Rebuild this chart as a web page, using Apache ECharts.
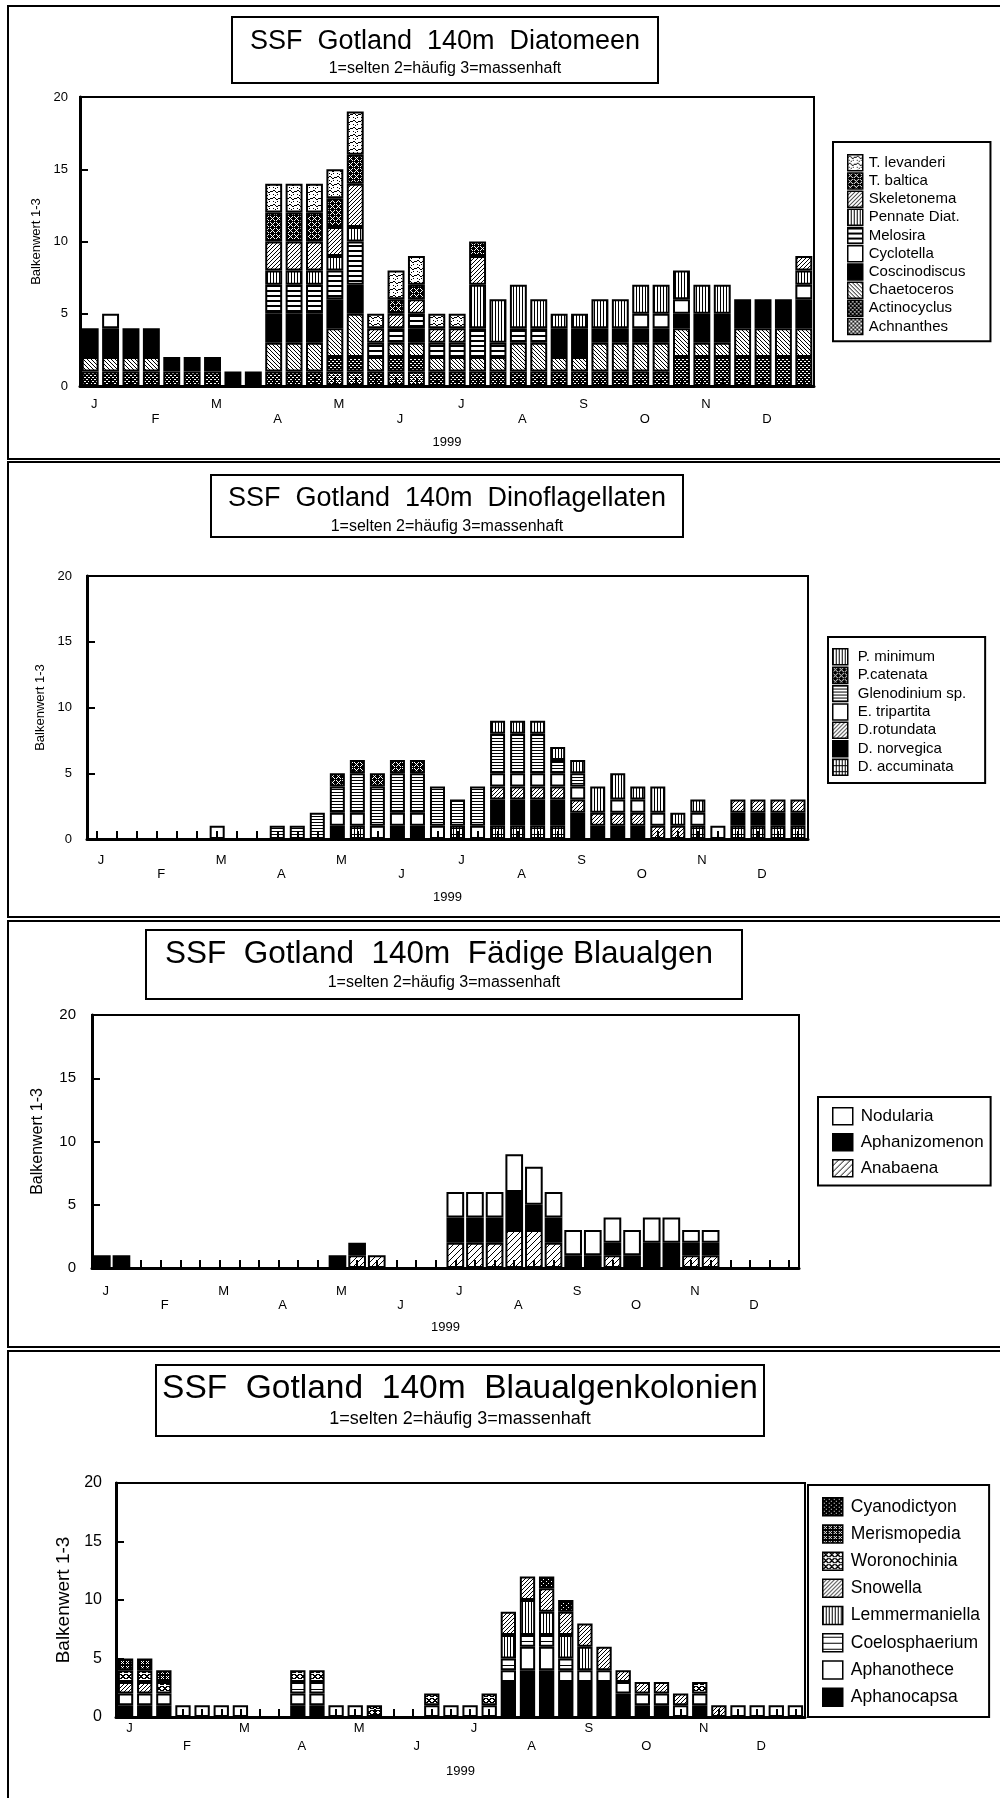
<!DOCTYPE html>
<html>
<head>
<meta charset="utf-8">
<title>SSF Gotland 140m 1999</title>
<script src="https://cdn.jsdelivr.net/npm/echarts@6/dist/echarts.min.js"></script>
<style>
  html, body { margin: 0; padding: 0; background: #fff; }
  #chart { width: 1000px; height: 1798px; }
</style>
</head>
<body>
<div id="chart"></div>
<script>
// ---- categories: three samples per month, 1999 ----
const monthNames = ['Jan','Feb','Mar','Apr','May','Jun','Jul','Aug','Sep','Oct','Nov','Dec'];
const monthLetters = ['J','F','M','A','M','J','J','A','S','O','N','D'];
const categories = monthNames.flatMap(m => [m + ' I', m + ' II', m + ' III']);
const yTicks = [0, 5, 10, 15, 20];

// ---- Diatomeen (Balkenwert 1-3 per taxon) ----
const diaAchnanthes   = [0,0,0,0,0,0,0,0,0,0,0,0,1,1,0,1,1,0,0,0,0,0,0,0,0,0,0,0,0,0,0,0,0,0,0,0];
const diaActinocyclus = [1,1,1,1,1,1,1,0,0,1,1,1,1,1,1,1,1,1,1,1,1,1,1,1,1,1,1,1,1,2,2,2,2,2,2,2];
const diaChaetoceros  = [1,1,1,1,0,0,0,0,0,2,2,2,2,3,1,1,1,1,1,1,1,2,2,1,1,2,2,2,2,2,1,1,2,2,2,2];
const diaCoscinodiscus= [2,2,2,2,1,1,1,1,1,2,2,2,2,2,0,0,1,0,0,0,0,0,0,2,2,1,1,1,1,1,2,2,2,2,2,2];
const diaCyclotella   = [0,1,0,0,0,0,0,0,0,0,0,0,0,0,0,0,0,0,0,0,0,0,0,0,0,0,0,1,1,1,0,0,0,0,0,1];
const diaMelosira     = [0,0,0,0,0,0,0,0,0,2,2,2,2,3,1,1,1,1,1,2,1,1,1,0,0,0,0,0,0,0,0,0,0,0,0,0];
const diaPennate      = [0,0,0,0,0,0,0,0,0,1,1,1,1,1,0,0,0,0,0,3,3,3,2,1,1,2,2,2,2,2,2,2,0,0,0,1];
const diaSkeletonema  = [0,0,0,0,0,0,0,0,0,2,2,2,2,3,1,1,1,1,1,2,0,0,0,0,0,0,0,0,0,0,0,0,0,0,0,1];
const diaTbaltica     = [0,0,0,0,0,0,0,0,0,2,2,2,2,2,0,1,1,0,0,1,0,0,0,0,0,0,0,0,0,0,0,0,0,0,0,0];
const diaTlevanderi   = [0,0,0,0,0,0,0,0,0,2,2,2,2,3,1,2,2,1,1,0,0,0,0,0,0,0,0,0,0,0,0,0,0,0,0,0];

// ---- Dinoflagellaten ----
const dinoDaccuminata = [0,0,0,0,0,0,0,0,0,0,0,0,0,1,0,0,0,0,1,0,1,1,1,1,0,0,0,0,0,0,1,0,1,1,1,1];
const dinoDnorvegica  = [0,0,0,0,0,0,0,0,0,0,0,0,1,0,0,1,1,0,0,0,2,2,2,2,2,1,1,1,0,0,0,0,1,1,1,1];
const dinoDrotundata  = [0,0,0,0,0,0,0,0,0,0,0,0,0,0,0,0,0,0,0,0,1,1,1,1,1,1,1,1,1,1,0,0,1,1,1,1];
const dinoEtripartita = [0,0,0,0,0,0,1,0,0,0,0,0,1,1,1,1,1,1,0,1,1,1,1,1,1,0,1,1,1,0,1,1,0,0,0,0];
const dinoGlenodinium = [0,0,0,0,0,0,0,0,0,1,1,2,2,3,3,3,3,3,2,3,3,3,3,1,1,0,0,0,0,0,0,0,0,0,0,0];
const dinoPcatenata   = [0,0,0,0,0,0,0,0,0,0,0,0,1,1,1,1,1,0,0,0,0,0,0,0,0,0,0,0,0,0,0,0,0,0,0,0];
const dinoPminimum    = [0,0,0,0,0,0,0,0,0,0,0,0,0,0,0,0,0,0,0,0,1,1,1,1,1,2,2,1,2,1,1,0,0,0,0,0];

// ---- Fädige Blaualgen ----
const filAnabaena      = [0,0,0,0,0,0,0,0,0,0,0,0,0,1,1,0,0,0,2,2,2,3,3,2,0,0,1,0,0,0,1,1,0,0,0,0];
const filAphanizomenon = [1,1,0,0,0,0,0,0,0,0,0,0,1,1,0,0,0,0,2,2,2,3,2,2,1,1,1,1,2,2,1,1,0,0,0,0];
const filNodularia     = [0,0,0,0,0,0,0,0,0,0,0,0,0,0,0,0,0,0,2,2,2,3,3,2,2,2,2,2,2,2,1,1,0,0,0,0];

// ---- Blaualgenkolonien ----
const colAphanocapsa    = [1,1,1,0,0,0,0,0,0,1,1,0,0,0,0,0,0,0,0,0,3,4,4,3,3,3,2,1,1,0,1,0,0,0,0,0];
const colAphanothece    = [1,1,1,1,1,1,1,0,0,1,1,1,1,0,0,0,1,1,1,1,1,2,2,1,1,1,1,1,1,1,1,0,1,1,1,1];
const colCoelosphaerium = [0,0,0,0,0,0,0,0,0,1,1,0,0,0,0,0,0,0,0,0,1,1,1,1,0,0,0,0,0,0,0,0,0,0,0,0];
const colLemmermaniella = [0,0,0,0,0,0,0,0,0,0,0,0,0,0,0,0,0,0,0,0,2,3,2,2,2,0,0,0,0,0,0,0,0,0,0,0];
const colSnowella       = [1,1,0,0,0,0,0,0,0,0,0,0,0,0,0,0,0,0,0,0,2,2,2,2,2,2,1,1,1,1,0,1,0,0,0,0];
const colWoronochinia   = [1,1,1,0,0,0,0,0,0,1,1,0,0,1,0,0,1,0,0,1,0,0,0,0,0,0,0,0,0,0,1,0,0,0,0,0];
const colMerismopedia   = [1,1,1,0,0,0,0,0,0,0,0,0,0,0,0,0,0,0,0,0,0,0,0,0,0,0,0,0,0,0,0,0,0,0,0,0];
const colCyanodictyon   = [0,0,0,0,0,0,0,0,0,0,0,0,0,0,0,0,0,0,0,0,0,0,1,1,0,0,0,0,0,0,0,0,0,0,0,0];

// ---- fill patterns (black & white hatching) ----
const FONT = '"Liberation Sans", Arial, Helvetica, sans-serif';
function tile(w, h, bg, draw) {
  const c = document.createElement('canvas');
  c.width = w; c.height = h;
  const g = c.getContext('2d');
  g.fillStyle = bg; g.fillRect(0, 0, w, h);
  g.fillStyle = bg === '#000' ? '#fff' : '#000';
  draw(g, w, h);
  return { image: c, repeat: 'repeat' };
}
const pts = (g, list) => list.forEach(([x, y, w, h]) => g.fillRect(x, y, w || 1, h || 1));
const fill = {
  black: '#000',
  white: '#fff',
  hLines: (p, t) => tile(1, p, '#fff', g => g.fillRect(0, 0, 1, t)),
  vLines: (p, t) => tile(p, 1, '#fff', g => g.fillRect(0, 0, t, 1)),
  fwd: (p) => tile(p, p, '#fff', g => { for (let i = 0; i < p; i++) g.fillRect(i, p - 1 - i, 1, 1); }),
  back: (p) => tile(p, p, '#fff', g => { for (let i = 0; i < p; i++) g.fillRect(i, i, 1, 1); }),
  grid: () => tile(3, 6, '#fff', g => { g.fillRect(0, 0, 1, 6); g.fillRect(0, 0, 3, 1); }),
  darkDots: () => tile(4, 4, '#000', g => pts(g, [[0,1,2,1],[2,3,2,1]])),
  lightDots: () => tile(4, 4, '#000', g => pts(g, [[0,0,3,1],[2,2,3,1],[0,2,1,1],[1,1],[3,3]])),
  crossBig: () => tile(6, 6, '#000', g => pts(g, [[0,0],[4,0],[1,1],[3,1],[2,2],[1,3],[3,3],[0,4],[4,4]])),
  crossSmall: () => tile(5, 5, '#000', g => pts(g, [[1,1],[3,1],[2,2],[1,3],[3,3]])),
  crossLight: () => tile(6, 6, '#fff', g => pts(g, [[0,0,2,1],[4,0,2,1],[1,1,2,1],[3,1,2,1],[2,2,2,1],[1,3,2,1],[3,3,2,1],[0,4,2,1],[4,4,2,1]])),
  sparseDots: () => tile(5, 4, '#000', g => pts(g, [[1,1],[3,3]])),
  wave: () => tile(8, 7, '#fff', g => pts(g, [[0,2],[1,1],[2,1],[3,2],[4,3],[5,3],[6,2],[7,2],[1,5],[5,5],[3,6]])),
  lineEvery: (p) => tile(1, p, '#fff', g => g.fillRect(0, Math.floor(p / 2), 1, 1))
};

// ---- panel definitions (species listed bottom of stack first) ----
const panels = [
  {
    title: 'SSF  Gotland  140m  Diatomeen', titleSize: 27, subSize: 16,
    box: [232, 17, 426, 66], titleY: 42, subY: 69,
    grid: [80, 97, 734, 289], gap: '17%',
    yFont: 13, yNameFont: 13, yMargin: 12, yNameGap: 36, xMargin: 11, xLine: 15, yearGap: 50,
    legend: { left: 833, top: 142, w: 15, h: 16, gap: 0.7, pad: [12, 25, 6, 14], font: 15, textPad: 1 },
    species: [
      ['Achnanthes', diaAchnanthes, fill.lightDots()],
      ['Actinocyclus', diaActinocyclus, fill.darkDots()],
      ['Chaetoceros', diaChaetoceros, fill.back(4)],
      ['Coscinodiscus', diaCoscinodiscus, fill.black],
      ['Cyclotella', diaCyclotella, fill.white],
      ['Melosira', diaMelosira, fill.hLines(5, 2)],
      ['Pennate Diat.', diaPennate, fill.vLines(3, 1)],
      ['Skeletonema', diaSkeletonema, fill.fwd(4)],
      ['T. baltica', diaTbaltica, fill.crossBig()],
      ['T. levanderi', diaTlevanderi, fill.wave()]
    ]
  },
  {
    title: 'SSF  Gotland  140m  Dinoflagellaten', titleSize: 27, subSize: 16,
    box: [211, 475, 472, 62], titleY: 499, subY: 527,
    grid: [87, 576, 721, 263], gap: '25%',
    yFont: 13, yNameFont: 13, yMargin: 15, yNameGap: 36, xMargin: 14, xLine: 14, yearGap: 52,
    legend: { left: 828, top: 637, w: 15, h: 16, gap: 0.9, pad: [11, 19, 7, 4], font: 15, textPad: 5 },
    species: [
      ['D. accuminata', dinoDaccuminata, fill.grid()],
      ['D. norvegica', dinoDnorvegica, fill.black],
      ['D.rotundata', dinoDrotundata, fill.fwd(4)],
      ['E. tripartita', dinoEtripartita, fill.white],
      ['Glenodinium sp.', dinoGlenodinium, fill.hLines(3, 1)],
      ['P.catenata', dinoPcatenata, fill.crossBig()],
      ['P. minimum', dinoPminimum, fill.vLines(3, 1)]
    ]
  },
  {
    title: 'SSF  Gotland  140m  Fädige Blaualgen', titleSize: 31.5, subSize: 16,
    box: [146, 930, 596, 69], titleY: 954, subY: 983, titleShift: -5,
    grid: [92, 1015, 707, 253], gap: '10%',
    yFont: 15, yNameFont: 16, yMargin: 16, yNameGap: 46, xMargin: 16, xLine: 14, yearGap: 53,
    legend: { left: 818, top: 1097, w: 20, h: 17, gap: 7.5, pad: [10, 7, 8, 14], font: 17, textPad: 3 },
    species: [
      ['Anabaena', filAnabaena, fill.fwd(6)],
      ['Aphanizomenon', filAphanizomenon, fill.black],
      ['Nodularia', filNodularia, fill.white]
    ]
  },
  {
    title: 'SSF  Gotland  140m  Blaualgenkolonien', titleSize: 33.5, subSize: 18,
    box: [156, 1365, 608, 71], titleY: 1389, subY: 1419,
    grid: [116, 1483, 689, 234], gap: '20%',
    yFont: 16, yNameFont: 19, yMargin: 14, yNameGap: 40, xMargin: 2, xLine: 18, yearGap: 48,
    legend: { left: 808, top: 1485, w: 20, h: 18, gap: 7.7, pad: [12, 9, 10, 14], font: 17.5, textPad: 3 },
    species: [
      ['Aphanocapsa', colAphanocapsa, fill.black],
      ['Aphanothece', colAphanothece, fill.white],
      ['Coelosphaerium', colCoelosphaerium, fill.lineEvery(6)],
      ['Lemmermaniella', colLemmermaniella, fill.vLines(3, 1)],
      ['Snowella', colSnowella, fill.fwd(4)],
      ['Woronochinia', colWoronochinia, fill.crossLight()],
      ['Merismopedia', colMerismopedia, fill.crossSmall()],
      ['Cyanodictyon', colCyanodictyon, fill.sparseDots()]
    ]
  }
];

// panel frames
const frames = [[8, 6, 1010, 453], [8, 462, 1010, 455], [8, 921, 1010, 426], [8, 1351, 1010, 470]];

const option = {
  animation: false,
  backgroundColor: '#fff',
  textStyle: { fontFamily: FONT, color: '#000' },
  grid: [], xAxis: [], yAxis: [], legend: [], series: [], graphic: []
};

frames.forEach(([x, y, w, h]) => option.graphic.push({
  type: 'rect', z: 0, silent: true,
  shape: { x, y, width: w, height: h },
  style: { fill: 'none', stroke: '#000', lineWidth: 2 }
}));

panels.forEach((p, i) => {
  // title block
  const [bx, by, bw, bh] = p.box;
  const cx = bx + bw / 2;
  option.graphic.push(
    { type: 'rect', z: 1, silent: true, shape: { x: bx, y: by, width: bw, height: bh },
      style: { fill: '#fff', stroke: '#000', lineWidth: 2 } },
    { type: 'text', z: 2, silent: true, x: cx + (p.titleShift || 0), y: p.titleY,
      style: { text: p.title, fill: '#000', fontSize: p.titleSize, fontFamily: FONT,
               align: 'center', verticalAlign: 'middle', textAlign: 'center', textVerticalAlign: 'middle' } },
    { type: 'text', z: 2, silent: true, x: cx, y: p.subY,
      style: { text: '1=selten 2=häufig 3=massenhaft', fill: '#000', fontSize: p.subSize, fontFamily: FONT,
               align: 'center', verticalAlign: 'middle', textAlign: 'center', textVerticalAlign: 'middle' } }
  );

  const [gl, gt, gw, gh] = p.grid;
  option.grid.push({ left: gl, top: gt, width: gw, height: gh, show: true,
                     borderColor: '#000', borderWidth: 2, backgroundColor: 'transparent' });

  option.xAxis.push({
    type: 'category', gridIndex: i, data: categories, z: 5,
    axisLine: { lineStyle: { color: '#000', width: 3 } },
    axisTick: { show: true, inside: true, alignWithLabel: true, interval: 0, length: 8,
                lineStyle: { color: '#000', width: 2 } },
    axisLabel: {
      interval: 2, margin: p.xMargin, color: '#000', fontSize: 13, fontFamily: FONT,
      lineHeight: p.xLine, padding: [0, 0, 0, 8],
      formatter: (v, idx) => {
        const m = Math.round(idx / 3);
        return m % 2 ? '\n' + monthLetters[m] : monthLetters[m];
      }
    },
    name: '1999', nameLocation: 'middle', nameGap: p.yearGap,
    nameTextStyle: { color: '#000', fontSize: 13, fontFamily: FONT }
  });

  option.yAxis.push({
    type: 'value', gridIndex: i, min: yTicks[0], max: yTicks[yTicks.length - 1],
    interval: yTicks[1] - yTicks[0],
    axisLine: { show: true, lineStyle: { color: '#000', width: 3 } },
    axisTick: { show: true, inside: true, length: 8, lineStyle: { color: '#000', width: 2 } },
    axisLabel: { color: '#000', fontSize: p.yFont, fontFamily: FONT, margin: p.yMargin },
    splitLine: { show: false },
    name: 'Balkenwert 1-3', nameLocation: 'middle', nameRotate: 90, nameGap: p.yNameGap,
    nameTextStyle: { color: '#000', fontSize: p.yNameFont, fontFamily: FONT }
  });

  p.species.forEach(([name, values, color]) => option.series.push({
    name, type: 'bar', stack: 'panel' + i, xAxisIndex: i, yAxisIndex: i,
    barCategoryGap: p.gap,
    data: values.map(v => (v > 0 ? v : '-')),
    itemStyle: { color, borderColor: '#000', borderWidth: 2 },
    emphasis: { disabled: true },
    silent: true
  }));

  const L = p.legend;
  option.legend.push({
    data: p.species.map(s => s[0]).reverse(),
    orient: 'vertical', left: L.left, top: L.top,
    itemWidth: L.w, itemHeight: L.h, itemGap: L.gap, padding: L.pad,
    icon: 'rect', selectedMode: false,
    backgroundColor: '#fff', borderColor: '#000', borderWidth: 2,
    itemStyle: { borderColor: '#000', borderWidth: 1.5 },
    textStyle: { color: '#000', fontSize: L.font, fontFamily: FONT, padding: [0, 0, 0, L.textPad] }
  });
});

const chart = echarts.init(document.getElementById('chart'), null, { renderer: 'canvas' });
chart.setOption(option);
</script>
</body>
</html>
